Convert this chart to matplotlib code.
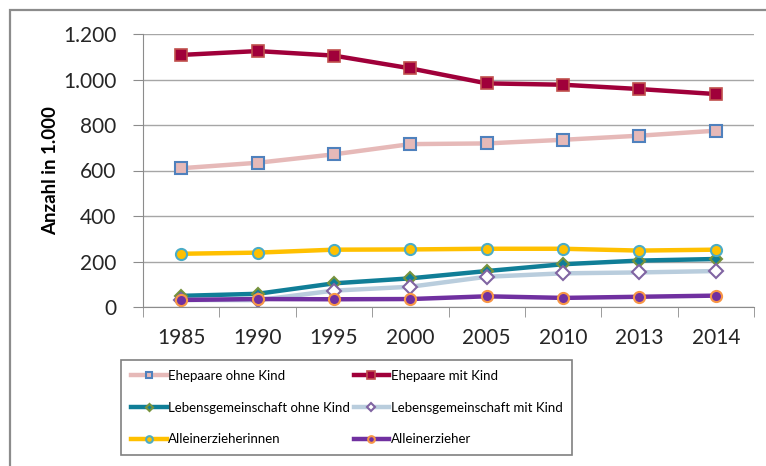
import matplotlib.pyplot as plt
from matplotlib.patches import Rectangle

plt.rcParams['font.family'] = ['Lato', 'DejaVu Sans']

years = ['1985', '1990', '1995', '2000', '2005', '2010', '2013', '2014']
ehe_ohne = [610, 634, 671, 716, 719, 735, 753, 775]
ehe_mit = [1108, 1125, 1105, 1049, 983, 977, 958, 936]
leb_ohne = [49, 58, 104, 126, 158, 188, 204, 211]
leb_mit = [31, 30, 72, 89, 133, 148, 152, 158]
alleinerz_innen = [234, 239, 252, 253, 256, 256, 248, 252]
alleinerz = [31, 35, 34, 35, 47, 40, 45, 50]

x = list(range(len(years)))

fig = plt.figure(figsize=(7.66, 4.66), dpi=100)
# outer frame (cut off at right and bottom)
fig.patches.append(Rectangle((10/766, -0.1), 1.2, 1 - 10/466 + 0.1, transform=fig.transFigure,
                             fill=False, edgecolor='#8c8c8c', linewidth=1.6))

ax = fig.add_axes([143/766, 1 - 307/466, 611/766, 273/466])

series = [
    ('Ehepaare ohne Kind', ehe_ohne, dict(color='#e6b9b8', marker='s', ms=8, mfc='#e6b9b8', mec='#4f81bd', mew=1.5)),
    ('Ehepaare mit Kind', ehe_mit, dict(color='#a0003a', marker='s', ms=8.5, mfc='#a0003a', mec='#c0504d', mew=1.2)),
    ('Lebensgemeinschaft ohne Kind', leb_ohne, dict(color='#107e97', marker='D', ms=6, mfc='#107e97', mec='#77933c', mew=1.5)),
    ('Lebensgemeinschaft mit Kind', leb_mit, dict(color='#b9cddd', marker='D', ms=7, mfc='white', mec='#8064a2', mew=1.5)),
    ('Alleinerzieherinnen', alleinerz_innen, dict(color='#ffc000', marker='o', ms=8, mfc='#ffc000', mec='#4bacc6', mew=1.5)),
    ('Alleinerzieher', alleinerz, dict(color='#7030a0', marker='o', ms=8, mfc='#7030a0', mec='#f79646', mew=1.5)),
]

lines = []
for name, vals, st in series:
    ln, = ax.plot(x, vals, label=name, lw=3.2, **st)
    lines.append(ln)

ax.set_xlim(-0.5, 7.5)
ax.set_ylim(0, 1200)
ax.set_yticks(range(0, 1201, 200))
ax.set_yticklabels(['0', '200', '400', '600', '800', '1.000', '1.200'])
ax.set_xticks(x)
ax.set_xticklabels(years)
ax.set_xticks([i - 0.5 for i in range(9)], minor=True)
ax.tick_params(axis='x', which='major', length=0, pad=15, labelsize=15, labelcolor='#262626')
ax.tick_params(axis='x', which='minor', length=7, color='#8c8c8c', direction='out')
ax.tick_params(axis='y', length=7, color='#8c8c8c', labelsize=15, labelcolor='#262626', pad=12)
ax.grid(axis='y', color='#a6a6a6', lw=1)
ax.set_axisbelow(True)
for s in ['top', 'right']:
    ax.spines[s].set_visible(False)
ax.spines['left'].set_color('#8c8c8c')
ax.spines['bottom'].set_color('#8c8c8c')
ax.set_ylabel('Anzahl in 1.000', fontsize=13.5, fontweight='bold', labelpad=3)

# legend filled row by row
order = [0, 2, 4, 1, 3, 5]
leg = fig.legend([lines[i] for i in order], [series[i][0] for i in order],
                 loc='upper left', bbox_to_anchor=(121/766, 1 - 360/466), borderaxespad=0,
                 ncol=2, fontsize=9.5, frameon=True, fancybox=False, edgecolor='#606060',
                 handlelength=2.7, handletextpad=0.1, columnspacing=0.3,
                 labelspacing=1.5, borderpad=0.75, markerscale=0.6)
leg.get_frame().set_linewidth(1.2)

fig.savefig('out.png', dpi=100)
